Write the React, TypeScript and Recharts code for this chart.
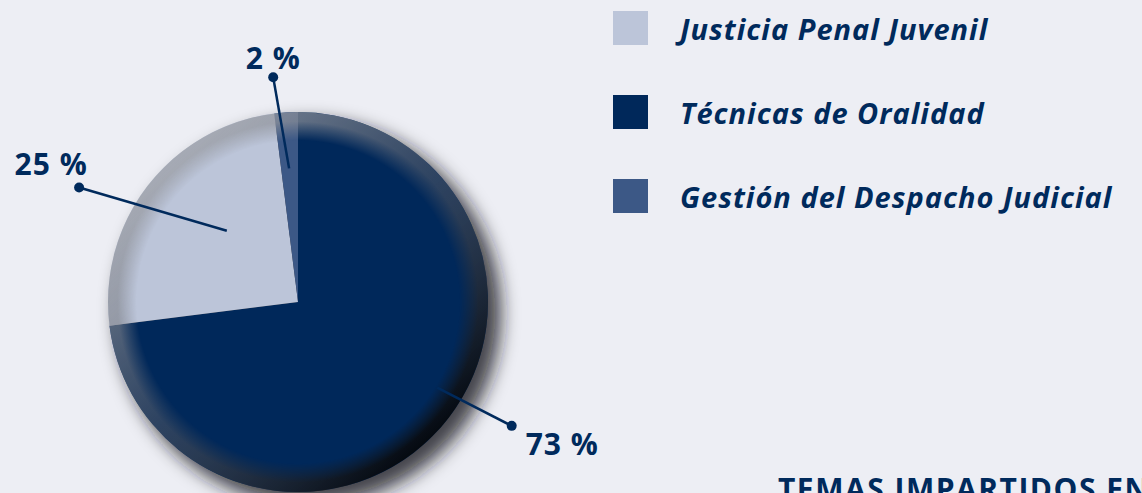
import { PieChart, Pie, Cell, Legend } from 'recharts';

const categories = ['Justicia Penal Juvenil', 'Técnicas de Oralidad', 'Gestión del Despacho Judicial'];
const values = [25, 73, 2];
const colors = ['#bcc5d9', '#00285a', '#3c5886'];
// slice order clockwise from 12 o'clock
const pieOrder = [1, 0, 2];
const title = 'TEMAS IMPARTIDOS EN';

const pieData = pieOrder.map((i) => ({ name: categories[i], value: values[i], color: colors[i] }));
const discData = [{ name: 'disc', value: 1 }];

const textColor = '#002a5c';
const font = '"Open Sans", sans-serif';

// leader line placement per slice: radius factors and angle offsets from midAngle
const labelLayout: Record<string, { inR: number; inA: number; outR: number; outA: number; dx: number; dy: number; anchor: 'start' | 'middle' }> = {
    'Técnicas de Oralidad': { inR: 0.86, inA: 9.8, outR: 1.3, outA: 11.3, dx: 14, dy: 18, anchor: 'start' },
    'Justicia Penal Juvenil': { inR: 0.53, inA: -7.2, outR: 1.3, outA: 10.2, dx: -28, dy: -24, anchor: 'middle' },
    'Gestión del Despacho Judicial': { inR: 0.705, inA: 0.2, outR: 1.19, outA: 2.7, dx: 0, dy: -20, anchor: 'middle' },
};

const RAD = Math.PI / 180;
const polar = (cx: number, cy: number, r: number, a: number) => ({
    x: cx + r * Math.cos(-a * RAD),
    y: cy + r * Math.sin(-a * RAD),
});

const renderLabel = (props: any) => {
    const { cx, cy, midAngle, outerRadius, name, value } = props;
    const l = labelLayout[name];
    if (!l) return null;
    const p1 = polar(cx, cy, outerRadius * l.inR, midAngle + l.inA);
    const p2 = polar(cx, cy, outerRadius * l.outR, midAngle + l.outA);
    return (
        <g>
            <line x1={p1.x} y1={p1.y} x2={p2.x} y2={p2.y} stroke={textColor} strokeWidth={2.5} />
            <circle cx={p2.x} cy={p2.y} r={5} fill={textColor} />
            <text
                x={p2.x + l.dx}
                y={p2.y + l.dy}
                textAnchor={l.anchor}
                dominantBaseline="central"
                fill={textColor}
                fontFamily={font}
                fontWeight={700}
                fontSize={30}
                letterSpacing={1}
            >
                {`${value} %`}
            </text>
        </g>
    );
};

const LegendBox = () => (
    <div>
        {categories.map((c, i) => (
            <div key={c} style={{ display: 'flex', alignItems: 'center', height: 84 }}>
                <div style={{ width: 35, height: 34, background: colors[i], marginRight: 32 }} />
                <span
                    style={{
                        fontFamily: font,
                        fontStyle: 'italic',
                        fontWeight: 700,
                        fontSize: 29,
                        letterSpacing: 1,
                        color: textColor,
                        whiteSpace: 'nowrap',
                    }}
                >
                    {c}
                </span>
            </div>
        ))}
    </div>
);

export default function App() {
    return (
        <div style={{ position: 'absolute', left: 0, top: 0, width: 1142, height: 493, background: '#edeef4', overflow: 'hidden' }}>
            <svg width={0} height={0} style={{ position: 'absolute' }}>
                <defs>
                    <filter id="discShadow" x="-30%" y="-30%" width="160%" height="160%">
                        <feGaussianBlur stdDeviation="9" />
                    </filter>
                    <linearGradient id="rimShade" x1="0.15" y1="0.1" x2="0.85" y2="0.9">
                        <stop offset="0" stopColor="#a4a7ae" stopOpacity={0.8} />
                        <stop offset="0.5" stopColor="#5a5e68" stopOpacity={0.5} />
                        <stop offset="1" stopColor="#000000" stopOpacity={0.9} />
                    </linearGradient>
                    <radialGradient id="rimFade" cx="0.5" cy="0.5" r="0.5">
                        <stop offset="0" stopColor="#000" />
                        <stop offset="0.85" stopColor="#000" />
                        <stop offset="0.95" stopColor="#fff" />
                        <stop offset="1" stopColor="#fff" />
                    </radialGradient>
                    <mask id="rimMask" maskContentUnits="objectBoundingBox">
                        <rect x={0} y={0} width={1} height={1} fill="url(#rimFade)" />
                    </mask>
                </defs>
            </svg>
            <PieChart width={1142} height={493} margin={{ top: 0, right: 0, bottom: 0, left: 0 }}>
                <Pie
                    data={discData}
                    dataKey="value"
                    cx={309}
                    cy={313}
                    outerRadius={192}
                    stroke="none"
                    isAnimationActive={false}
                    legendType="none"
                >
                    <Cell fill="#1a1a1f" fillOpacity={0.8} filter="url(#discShadow)" />
                </Pie>
                <Pie
                    data={pieData}
                    dataKey="value"
                    nameKey="name"
                    cx={298}
                    cy={302}
                    outerRadius={190}
                    startAngle={90}
                    endAngle={-270}
                    stroke="none"
                    isAnimationActive={false}
                    labelLine={false}
                    label={renderLabel}
                >
                    {pieData.map((d) => (
                        <Cell key={d.name} fill={d.color} />
                    ))}
                </Pie>
                <Pie
                    data={discData}
                    dataKey="value"
                    cx={298}
                    cy={302}
                    outerRadius={190}
                    stroke="none"
                    isAnimationActive={false}
                    legendType="none"
                >
                    <Cell fill="url(#rimShade)" mask="url(#rimMask)" />
                </Pie>
                <Legend
                    content={() => <LegendBox />}
                    wrapperStyle={{ position: 'absolute', left: 613, top: -14, width: 529 }}
                />
                <text x={778} y={500} fill={textColor} fontFamily={font} fontWeight={700} fontSize={30} letterSpacing={1.5}>
                    {title}
                </text>
            </PieChart>
        </div>
    );
}
